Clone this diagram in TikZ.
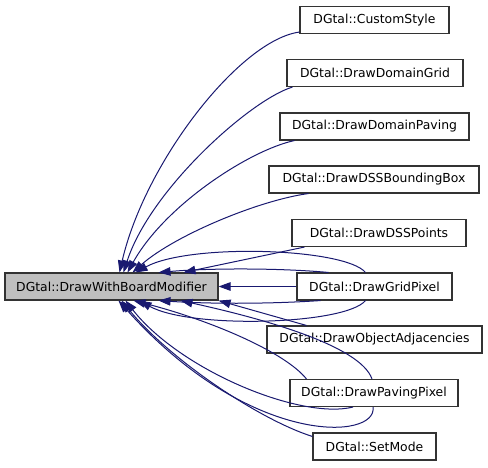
\documentclass[tikz,border=0pt]{standalone}
\usepackage{fontspec}
\setmainfont{DejaVu Sans}
\usepackage{xcolor}
\usepackage{tikz}
\usetikzlibrary{positioning, calc, arrows.meta}
\definecolor{navy}{HTML}{191970}
\definecolor{shade}{HTML}{BFBFBF}

\begin{document}
\begin{tikzpicture}[x=1pt, y=-1pt,
  cls/.style={draw=black!80, line width=1.1pt, fill=white, minimum width=#1,
              minimum height=27pt, inner xsep=6pt, inner ysep=0pt,
              font=\fontsize{12.4}{15}\selectfont},
  base/.style={cls=#1, fill=shade},
  inh/.style={draw=navy, line width=1pt, -{Triangle[length=12pt, width=8.5pt]}}
]
  \useasboundingbox (0,0) rectangle (488,467);

  \node[base=213pt] (dwb) at (111.5,286.5) {DGtal::DrawWithBoardModifier};

  \node[cls=149pt] (cs)  at (374.5,20)    {DGtal::CustomStyle};
  \node[cls=176pt] (ddg) at (375,73)      {DGtal::DrawDomainGrid};
  \node[cls=189pt] (ddp) at (374.5,126.5) {DGtal::DrawDomainPaving};
  \node[cls=210pt] (dbb) at (374,179.5)   {DGtal::DrawDSSBoundingBox};
  \node[cls=174pt] (dsp) at (379,233)     {DGtal::DrawDSSPoints};
  \node[cls=155pt] (dgp) at (374.5,286.5) {DGtal::DrawGridPixel};
  \node[cls=215pt] (doa) at (374.5,339.5) {DGtal::DrawObjectAdjacencies};
  \node[cls=168pt] (dpp) at (374,393)     {DGtal::DrawPavingPixel};
  \node[cls=123pt] (sm)  at (374.5,446.5) {DGtal::SetMode};

  % upper fan
  \draw[inh] ([yshift=2pt]cs.south west) .. controls (240,40) and (145,162) .. ([xshift=8pt]dwb.north);
  \draw[inh] ([xshift=6pt]ddg.south west) .. controls (250,100) and (150,190) .. ([xshift=12pt]dwb.north);
  \draw[inh] ([xshift=15pt]ddp.south west) .. controls (250,150) and (165,205) .. ([xshift=16pt]dwb.north);
  \draw[inh] ([xshift=40pt]dbb.south west) .. controls (260,200) and (175,235) .. ([xshift=21pt]dwb.north);
  \draw[inh] ([xshift=13pt]dsp.south west) -- ([xshift=72pt]dwb.north);
  \draw[inh] ([xshift=-46pt]dgp.north) .. controls (280,268) and (210,268) .. ([xshift=47pt]dwb.north);
  \draw[inh] ([xshift=-9pt]dgp.north) .. controls (345,248) and (190,243) .. ([xshift=24pt]dwb.north);

  \draw[inh] (dgp.west) -- (dwb.east);

  % lower fan
  \draw[inh] ([xshift=-54pt]dgp.south) .. controls (270,304) and (210,304) .. ([xshift=47pt]dwb.south);
  \draw[inh] ([xshift=-9pt]dgp.south) .. controls (345,325) and (190,329) .. ([xshift=28pt]dwb.south);
  \draw[inh] ([xshift=40pt]doa.north west) -- (dwb.south east);
  \draw[inh] ([xshift=-2pt]dpp.north) .. controls (360,345) and (260,318) .. ([xshift=69pt]dwb.south);
  \draw[inh] ([xshift=17pt]dpp.north west) .. controls (285,352) and (210,320) .. ([xshift=22pt]dwb.south);
  \draw[inh] ([xshift=-21pt]dpp.south) .. controls (300,420) and (180,370) .. ([xshift=14pt]dwb.south);
  \draw[inh] ([xshift=-1pt]dpp.south) .. controls (378,440) and (250,448) .. ([xshift=7pt]dwb.south);
  \draw[inh] ([yshift=-4pt]sm.north west) .. controls (260,420) and (170,360) .. ([xshift=10pt]dwb.south);

\end{tikzpicture}
\end{document}
